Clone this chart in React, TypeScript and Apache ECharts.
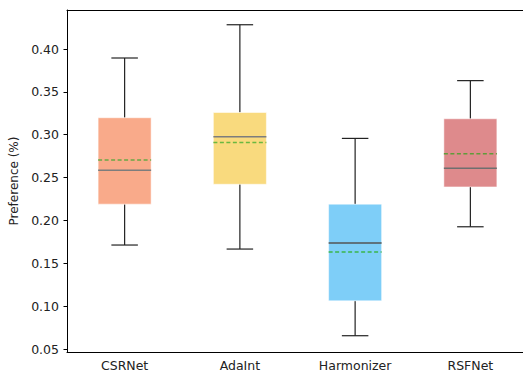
import React, { useEffect, useRef } from "react";
import * as echarts from "echarts";

const categories = ["CSRNet", "AdaInt", "Harmonizer", "RSFNet"];
const whiskerLow = [0.1713, 0.1666, 0.0655, 0.1926];
const q1 = [0.219, 0.2422, 0.1062, 0.2391];
const medians = [0.2585, 0.2977, 0.1736, 0.2608];
const q3 = [0.3198, 0.3259, 0.219, 0.3186];
const whiskerHigh = [0.3895, 0.4283, 0.2957, 0.3631];
const means = [0.2705, 0.291, 0.1631, 0.2779];
const yTicks = [0.05, 0.1, 0.15, 0.2, 0.25, 0.3, 0.35, 0.4];

const boxColors = ["#F9AA8A", "#F9DA7E", "#7ECEF8", "#DE8A8C"];
const medianColors = ["#7d7d7d", "#7d7d7d", "#555555", "#6f6f6f"];
const meanColors = ["#6aa845", "#6ab840", "#3bb54a", "#5f9c3a"];

export default function App() {
  const ref = useRef<HTMLDivElement>(null);
  useEffect(() => {
    document.body.style.margin = "0";
    const chart = echarts.init(ref.current!, null, { renderer: "svg" });
    const data = categories.map((_, i) => [
      i,
      whiskerLow[i],
      q1[i],
      medians[i],
      q3[i],
      whiskerHigh[i],
      means[i],
    ]);
    chart.setOption({
      animation: false,
      grid: {
        left: 67,
        top: 10,
        width: 461,
        height: 342,
        show: false,
        outerBoundsMode: "none",
        containLabel: false,
      },
      xAxis: [
        {
          type: "category",
          data: categories,
          boundaryGap: true,
          axisLine: { lineStyle: { color: "#000", width: 1 } },
          axisTick: { alignWithLabel: true, length: 3.5, lineStyle: { color: "#000" } },
          axisLabel: {
            color: "#222",
            fontFamily: "DejaVu Sans",
            fontSize: 12.5,
            margin: 7,
          },
          splitLine: { show: false },
        },
        {
          type: "category",
          data: categories,
          position: "top",
          boundaryGap: true,
          axisLine: { show: true, lineStyle: { color: "#000", width: 1 } },
          axisTick: { show: false },
          axisLabel: { show: false },
          splitLine: { show: false },
        },
      ],
      yAxis: {
        type: "value",
        min: 0.0465,
        max: 0.4455,
        name: "Preference (%)",
        nameLocation: "middle",
        nameGap: 43,
        nameTextStyle: { color: "#222", fontFamily: "DejaVu Sans", fontSize: 12 },
        axisLine: { show: true, lineStyle: { color: "#000", width: 1 } },
        axisTick: {
          show: true,
          length: 3.5,
          lineStyle: { color: "#000" },
          customValues: yTicks,
        },
        axisLabel: {
          color: "#222",
          fontFamily: "DejaVu Sans",
          fontSize: 12.5,
          margin: 8,
          customValues: yTicks,
          formatter: (v: number) => v.toFixed(2),
        },
        splitLine: { show: false },
      },
      series: [
        {
          type: "custom",
          data,
          xAxisIndex: 0,
          encode: { x: 0, y: [1, 2, 3, 4, 5, 6] },
          renderItem: (params: any, api: any) => {
            const i = api.value(0);
            const band = api.size([1, 0])[0];
            const bw = band * 0.46;
            const cw = band * 0.23;
            const pLow = api.coord([i, api.value(1)]);
            const pQ1 = api.coord([i, api.value(2)]);
            const pMed = api.coord([i, api.value(3)]);
            const pQ3 = api.coord([i, api.value(4)]);
            const pHigh = api.coord([i, api.value(5)]);
            const pMean = api.coord([i, api.value(6)]);
            const cx = pMed[0];
            const lineStyle = { stroke: "#222", lineWidth: 1.2 };
            return {
              type: "group",
              children: [
                {
                  type: "line",
                  shape: { x1: cx, y1: pHigh[1], x2: cx, y2: pQ3[1] },
                  style: lineStyle,
                },
                {
                  type: "line",
                  shape: { x1: cx, y1: pQ1[1], x2: cx, y2: pLow[1] },
                  style: lineStyle,
                },
                {
                  type: "line",
                  shape: { x1: cx - cw / 2, y1: pHigh[1], x2: cx + cw / 2, y2: pHigh[1] },
                  style: lineStyle,
                },
                {
                  type: "line",
                  shape: { x1: cx - cw / 2, y1: pLow[1], x2: cx + cw / 2, y2: pLow[1] },
                  style: lineStyle,
                },
                {
                  type: "rect",
                  shape: { x: cx - bw / 2, y: pQ3[1], width: bw, height: pQ1[1] - pQ3[1] },
                  style: { fill: boxColors[i], stroke: "rgba(255,255,255,0.5)", lineWidth: 1 },
                },
                {
                  type: "line",
                  shape: { x1: cx - bw / 2, y1: pMed[1], x2: cx + bw / 2, y2: pMed[1] },
                  style: { stroke: medianColors[i], lineWidth: 1.5 },
                },
                {
                  type: "line",
                  shape: { x1: cx - bw / 2, y1: pMean[1], x2: cx + bw / 2, y2: pMean[1] },
                  style: { stroke: meanColors[i], lineWidth: 1.5, lineDash: [4, 2.5] },
                },
              ],
            };
          },
        },
      ],
    });
    return () => chart.dispose();
  }, []);
  return <div ref={ref} style={{ width: 523, height: 376 }} />;
}
